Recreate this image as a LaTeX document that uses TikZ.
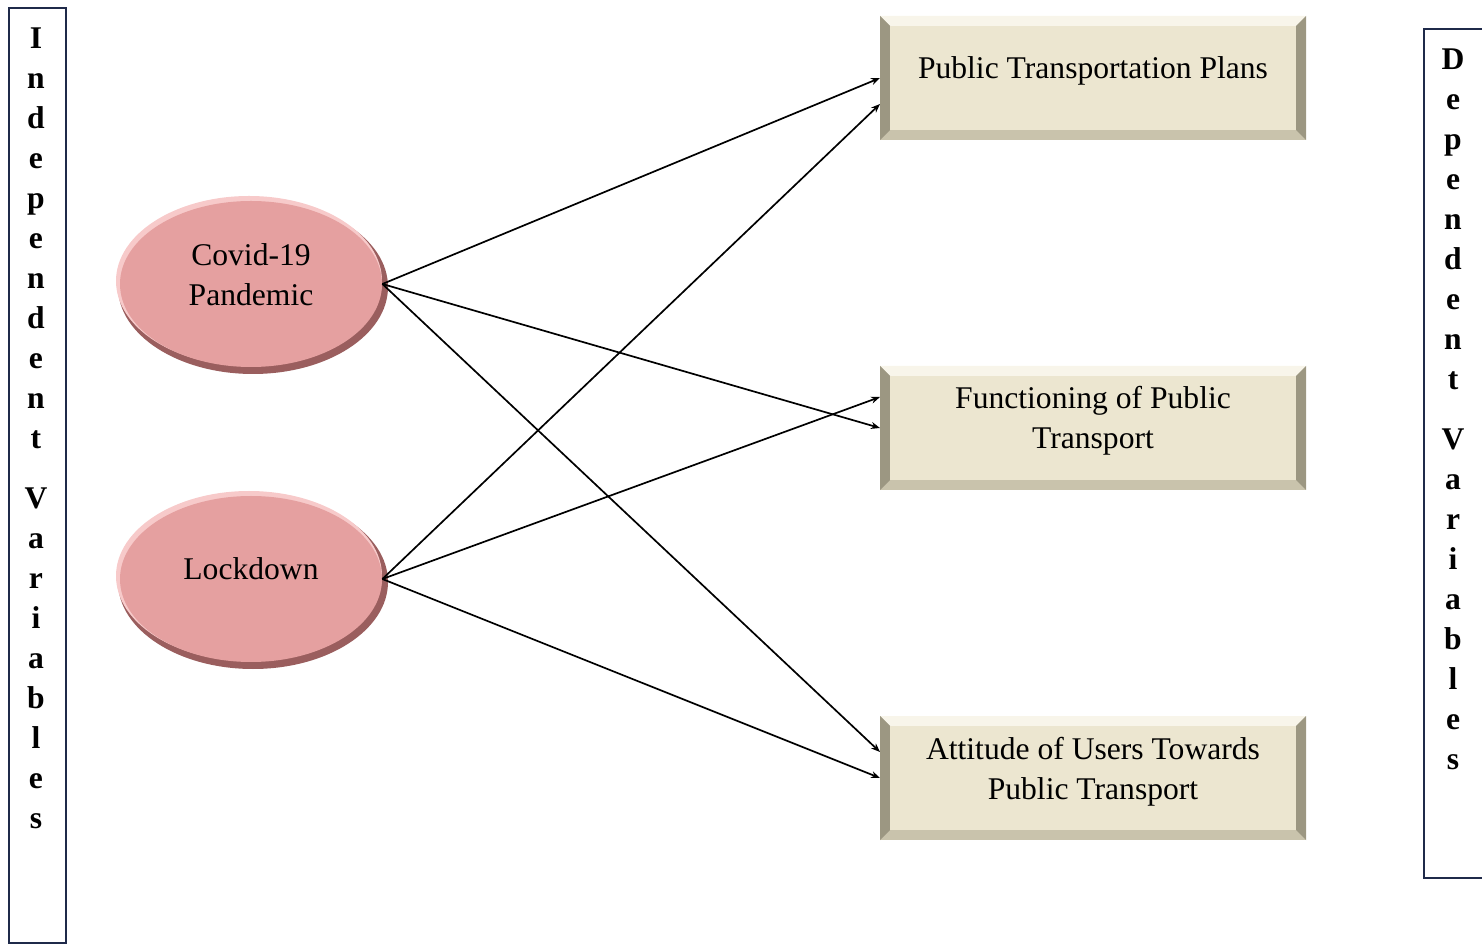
\documentclass[tikz,border=0pt]{standalone}
\usepackage{fontspec}
\setmainfont{Liberation Serif}
\usetikzlibrary{shapes.geometric,arrows.meta,calc}
\definecolor{barline}{HTML}{1F2A4A}
\definecolor{rose}{HTML}{E5A0A0}
\definecolor{rosedark}{HTML}{9A5E5E}
\definecolor{roselight}{HTML}{F7CACA}
\definecolor{beige}{HTML}{ECE6D0}
\definecolor{bevlight}{HTML}{F8F5EA}
\definecolor{bevdark}{HTML}{9C9782}
\definecolor{bevmid}{HTML}{C9C3AC}
\tikzset{
  x=0.5pt,y=-0.5pt,
  every node/.style={font=\fontsize{15.8}{20}\selectfont},
  varbar/.style={draw=barline,line width=1.1pt},
  barletters/.style={align=center,font=\bfseries\fontsize{15.8}{20}\selectfont,inner sep=0pt},
  oval/.style={ellipse,minimum width=131pt,minimum height=83pt,fill=rose,inner sep=0pt},
  dvbox/.style={rectangle,minimum width=203pt,minimum height=52pt,fill=beige,inner sep=0pt},
  lbl/.style={align=center,inner sep=0pt},
  link/.style={line width=0.85pt,-{Stealth[length=4.5pt,width=3.5pt]}}
}
\begin{document}
\begin{tikzpicture}
\useasboundingbox (0,0) rectangle (1482,945);
\clip (0,0) rectangle (1482,945);
% variable bars
\draw[varbar] (9,8) rectangle (66,943);
\draw[varbar] (1424,29) rectangle (1490,878);
\node[barletters] (indep) at (36,428) {I\\n\\d\\e\\p\\e\\n\\d\\e\\n\\t\\[10pt]V\\a\\r\\i\\a\\b\\l\\e\\s};
\node[barletters] (dep) at (1453,409) {D\\e\\p\\e\\n\\d\\e\\n\\t\\[10pt]V\\a\\r\\i\\a\\b\\l\\e\\s};
% ellipses with bevel look
\foreach \cy in {284,579}{
  \fill[rosedark] (253,\cy+3) ellipse [x radius=135pt/2, y radius=87pt/2];
  \fill[roselight] (249,\cy-3) ellipse [x radius=133pt/2, y radius=85pt/2];
}
\node[oval] (covid) at (251,284) {};
\node[oval] (lock) at (251,579) {};
\node[lbl] (covidt) at ([yshift=4.5pt]covid.center) {Covid-19\\Pandemic};
\node[lbl] (lockt) at ([yshift=5pt]lock.center) {Lockdown};
% boxes with bevel
\foreach \cy in {78,428,778}{
  \fill[bevmid] (880,\cy-62) rectangle (1306,\cy+62);
  \fill[bevlight] (880,\cy-62) -- (1306,\cy-62) -- (1296,\cy-52) -- (890,\cy-52) -- cycle;
  \fill[bevdark] (880,\cy-62) -- (890,\cy-52) -- (890,\cy+52) -- (880,\cy+62) -- cycle;
  \fill[bevdark] (1306,\cy-62) -- (1296,\cy-52) -- (1296,\cy+52) -- (1306,\cy+62) -- cycle;
}
\node[dvbox] (b1) at (1093,78) {};
\node[dvbox] (b2) at (1093,428) {};
\node[dvbox] (b3) at (1093,778) {};
\node[lbl] (b1t) at ([yshift=3.5pt]b1.center) {Public Transportation Plans};
\node[lbl] (b2t) at ([yshift=3.5pt]b2.center) {Functioning of Public\\Transport};
\node[lbl] (b3t) at ([yshift=3pt]b3.center) {Attitude of Users Towards\\Public Transport};
\coordinate (b1w) at (880,78);
\coordinate (b1w2) at (880,104);
\coordinate (b2w) at (880,428);
\coordinate (b2w2) at (880,397);
\coordinate (b3w) at (880,778);
\coordinate (b3w2) at (880,752);
% links
\draw[link] (covid.east) -- (b1w);
\draw[link] (covid.east) -- (b2w);
\draw[link] (covid.east) -- (b3w2);
\draw[link] (lock.east) -- (b1w2);
\draw[link] (lock.east) -- (b2w2);
\draw[link] (lock.east) -- (b3w);
\end{tikzpicture}
\end{document}
